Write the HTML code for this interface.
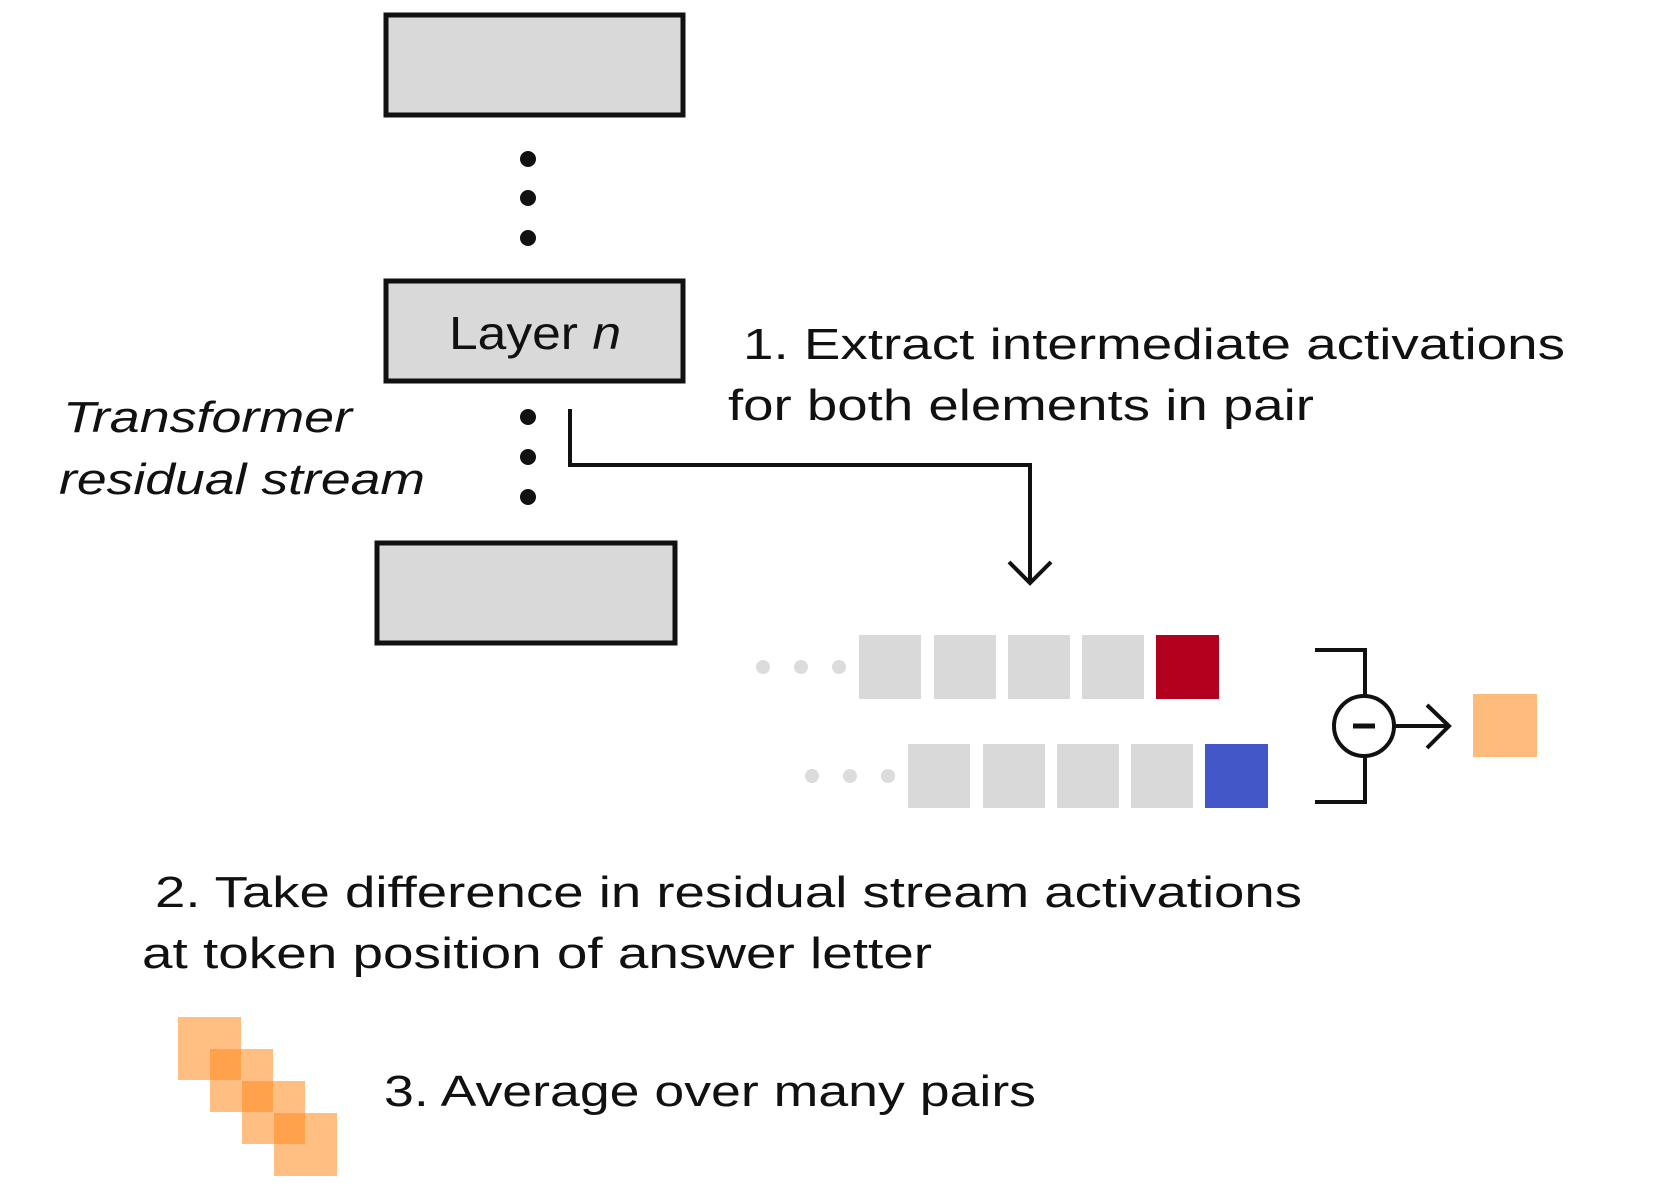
<!DOCTYPE html>
<html><head><meta charset="utf-8"><style>
html,body{margin:0;padding:0;background:#fff;width:1662px;height:1197px;overflow:hidden}
svg{display:block}
text{font-family:"Liberation Sans",sans-serif;fill:#111}
</style></head><body>
<svg width="1662" height="1197" viewBox="0 0 1662 1197" xmlns="http://www.w3.org/2000/svg">
<g transform="translate(-3,-3)">
<rect x="389" y="18" width="297" height="100" fill="#d9d9d9" stroke="#111" stroke-width="5"/>
<circle cx="531" cy="162" r="8" fill="#111"/><circle cx="531" cy="201" r="8" fill="#111"/><circle cx="531" cy="241" r="8" fill="#111"/>
<rect x="389" y="284" width="297" height="100" fill="#d9d9d9" stroke="#111" stroke-width="5"/>
<text x="452" y="352" font-size="46" textLength="172" lengthAdjust="spacingAndGlyphs">Layer <tspan font-style="italic">n</tspan></text>
<text x="746" y="362" font-size="44" textLength="822" lengthAdjust="spacingAndGlyphs">1. Extract intermediate activations</text>
<text x="731" y="423" font-size="44" textLength="586" lengthAdjust="spacingAndGlyphs">for both elements in pair</text>
<text x="66" y="435" font-size="44" font-style="italic" textLength="289" lengthAdjust="spacingAndGlyphs">Transformer</text>
<text x="62" y="497" font-size="44" font-style="italic" textLength="366" lengthAdjust="spacingAndGlyphs">residual stream</text>
<circle cx="531" cy="420" r="8" fill="#111"/><circle cx="531" cy="460" r="8" fill="#111"/><circle cx="531" cy="500" r="8" fill="#111"/>
<polyline points="573,412 573,468 1033,468 1033,586" fill="none" stroke="#111" stroke-width="4"/>
<polyline points="1012,565 1033,586 1054,565" fill="none" stroke="#111" stroke-width="4"/>
<rect x="380" y="546" width="298" height="100" fill="#d9d9d9" stroke="#111" stroke-width="5"/>
<g fill="#dcdcdc"><circle cx="766" cy="670" r="7"/><circle cx="804" cy="670" r="7"/><circle cx="842" cy="670" r="7"/>
<circle cx="815" cy="779" r="7"/><circle cx="853" cy="779" r="7"/><circle cx="891" cy="779" r="7"/></g>
<g fill="#d9d9d9">
<rect x="862" y="638" width="62" height="64"/><rect x="937" y="638" width="62" height="64"/><rect x="1011" y="638" width="62" height="64"/><rect x="1085" y="638" width="62" height="64"/>
<rect x="911" y="747" width="62" height="64"/><rect x="986" y="747" width="62" height="64"/><rect x="1060" y="747" width="62" height="64"/><rect x="1134" y="747" width="62" height="64"/>
</g>
<rect x="1159" y="638" width="63" height="64" fill="#b3001e"/>
<rect x="1208" y="747" width="63" height="64" fill="#4357c8"/>
<g fill="none" stroke="#111" stroke-width="4">
<polyline points="1318,653 1368,653 1368,699"/>
<polyline points="1318,805 1368,805 1368,759"/>
<circle cx="1367" cy="729" r="30"/>
<line x1="1397" y1="729" x2="1452" y2="729"/>
<polyline points="1430,708 1452,729 1430,751"/>
<line x1="1356" y1="729" x2="1378" y2="729" stroke-width="5"/>
</g>
<rect x="1476" y="697" width="64" height="63" fill="#ffbb7c"/>
<text x="158" y="910" font-size="44" textLength="1147" lengthAdjust="spacingAndGlyphs">2. Take difference in residual stream activations</text>
<text x="145" y="971" font-size="44" textLength="790" lengthAdjust="spacingAndGlyphs">at token position of answer letter</text>
<g fill="#ff8a1e" fill-opacity="0.55">
<rect x="181" y="1020" width="63" height="63"/><rect x="213" y="1052" width="63" height="63"/><rect x="245" y="1084" width="63" height="63"/><rect x="277" y="1116" width="63" height="63"/>
</g>
<text x="387" y="1109" font-size="44" textLength="652" lengthAdjust="spacingAndGlyphs">3. Average over many pairs</text>
</g>
</svg>
</body></html>
